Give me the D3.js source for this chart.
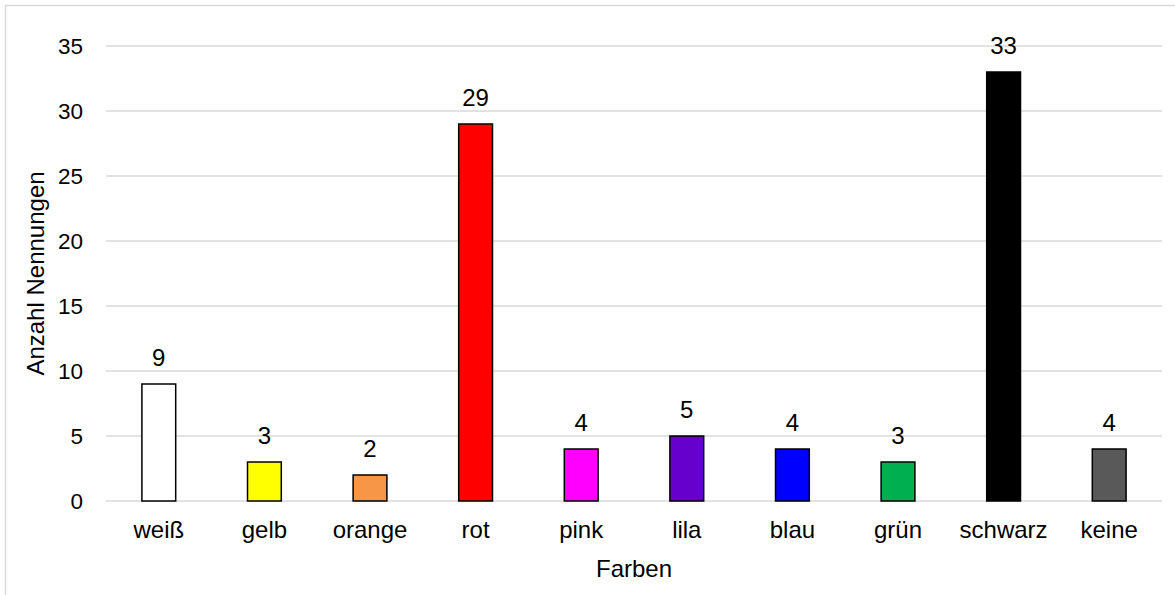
<!DOCTYPE html>
<html>
<head>
<meta charset="utf-8">
<script src="https://cdn.jsdelivr.net/npm/d3@7"></script>
<style>
  html, body { margin: 0; padding: 0; background: #fff; }
  svg { display: block; font-family: "Liberation Sans", Arial, sans-serif; }
</style>
</head>
<body>
<svg id="chart" width="1175" height="595"></svg>
<script>
// Farben und Anzahl der Nennungen
const categories = ["weiß", "gelb", "orange", "rot", "pink", "lila", "blau", "grün", "schwarz", "keine"];
const values = [9, 3, 2, 29, 4, 5, 4, 3, 33, 4];
const barColors = ["#ffffff", "#ffff00", "#f79646", "#ff0000", "#ff00ff", "#6600cc", "#0000ff", "#00b050", "#000000", "#595959"];
const yTicks = [0, 5, 10, 15, 20, 25, 30, 35];
const xTitle = "Farben";
const yTitle = "Anzahl Nennungen";

const svg = d3.select("#chart");
const W = 1175, H = 595;
const plot = { left: 106, right: 1162, top: 46, bottom: 501 };
const FONT = "Liberation Sans, Arial, sans-serif";
const labelSize = 24, tickSize = 22.5;

// outer chart frame
svg.append("rect")
  .attr("x", 5.5).attr("y", 5.5)
  .attr("width", W + 10).attr("height", H + 10)
  .attr("fill", "#fff").attr("stroke", "#d9d9d9").attr("stroke-width", 1.5);

const x = d3.scaleBand()
  .domain(categories)
  .range([plot.left, plot.right])
  .paddingInner(0.68)
  .paddingOuter(0.34);

const y = d3.scaleLinear()
  .domain([0, 35])
  .range([plot.bottom, plot.top]);

// horizontal gridlines
svg.append("g")
  .selectAll("line")
  .data(yTicks)
  .join("line")
  .attr("x1", plot.left).attr("x2", plot.right)
  .attr("y1", d => y(d)).attr("y2", d => y(d))
  .attr("stroke", "#d9d9d9").attr("stroke-width", 1.5);

// y axis labels
const yAxis = d3.axisLeft(y).tickValues(yTicks).tickSize(0).tickPadding(23);
const gy = svg.append("g").attr("transform", `translate(${plot.left},0)`).call(yAxis);
gy.select(".domain").remove();
gy.selectAll("text").attr("font-size", tickSize).attr("fill", "#000").attr("font-family", FONT);

// x axis labels
const xAxis = d3.axisBottom(x).tickSize(0).tickPadding(20);
const gx = svg.append("g").attr("transform", `translate(0,${plot.bottom})`).call(xAxis);
gx.select(".domain").remove();
gx.selectAll("text").attr("font-size", labelSize).attr("fill", "#000").attr("font-family", FONT);

// bars
svg.append("g")
  .selectAll("rect")
  .data(categories)
  .join("rect")
  .attr("x", d => x(d))
  .attr("y", (d, i) => y(values[i]))
  .attr("width", x.bandwidth())
  .attr("height", (d, i) => y(0) - y(values[i]))
  .attr("fill", (d, i) => barColors[i])
  .attr("stroke", "#000").attr("stroke-width", 1.5);

// value labels
svg.append("g")
  .selectAll("text")
  .data(categories)
  .join("text")
  .attr("x", d => x(d) + x.bandwidth() / 2)
  .attr("y", (d, i) => y(values[i]) - 18)
  .attr("text-anchor", "middle")
  .attr("font-size", labelSize).attr("fill", "#000")
  .text((d, i) => values[i]);

// axis titles
svg.append("text")
  .attr("x", (plot.left + plot.right) / 2).attr("y", 577)
  .attr("text-anchor", "middle").attr("font-size", labelSize).attr("fill", "#000")
  .text(xTitle);

svg.append("text")
  .attr("transform", `translate(44,${(plot.top + plot.bottom) / 2}) rotate(-90)`)
  .attr("text-anchor", "middle").attr("font-size", labelSize).attr("fill", "#000")
  .text(yTitle);
</script>
</body>
</html>
